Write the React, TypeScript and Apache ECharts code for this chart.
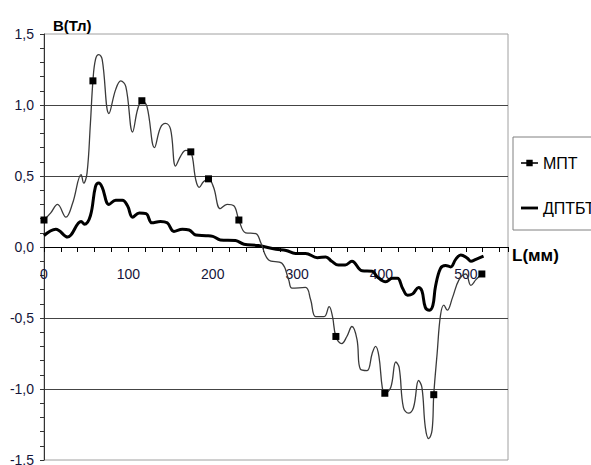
import React, { useEffect, useRef } from "react";
import * as echarts from "echarts";

const seriesNames = ["МПТ", "ДПТБТ"];

// МПТ: [L (мм), B (Тл)]
const mptData: [number, number][] = [
  [0, 0.19], [8, 0.24], [16, 0.3], [26, 0.21], [34, 0.31], [44, 0.51], [47, 0.45], [51, 0.52],
  [55, 0.87], [58, 1.17], [61, 1.32], [65, 1.355], [69, 1.32], [77, 0.94], [85, 1.11], [91, 1.17],
  [97, 1.13], [105, 0.81], [111, 0.97], [116, 1.03], [122, 0.99], [131, 0.7], [138, 0.84], [144, 0.87],
  [150, 0.83], [156, 0.57], [162, 0.64], [168, 0.68], [174, 0.67], [180, 0.47], [184, 0.42], [189, 0.46],
  [195, 0.48], [201, 0.42], [209, 0.27], [217, 0.3], [225, 0.29], [231, 0.19], [239, 0.1], [251, 0.095],
  [257, 0.03], [266, -0.09], [282, -0.115], [290, -0.23], [294, -0.29], [310, -0.285], [316, -0.37],
  [322, -0.49], [332, -0.49], [338, -0.42], [342, -0.49], [346, -0.63], [353, -0.68], [359, -0.63],
  [365, -0.56], [371, -0.65], [375, -0.86], [383, -0.87], [389, -0.75], [393, -0.7], [397, -0.77],
  [401, -0.99], [404, -1.03], [411, -0.99], [417, -0.81], [421, -0.85], [426, -1.13], [432, -1.17],
  [438, -1.13], [444, -0.94], [448, -0.99], [452, -1.27], [456, -1.35], [460, -1.29], [462, -1.04],
  [466, -0.75], [470, -0.48], [474, -0.41], [478, -0.445], [484, -0.36], [492, -0.23], [500, -0.19],
  [506, -0.27], [512, -0.23], [519, -0.19],
];

// L values of МПТ points that carry a square marker
const mptMarked: number[] = [0, 58, 116, 174, 195, 231, 346, 404, 462, 519];

// ДПТБТ: [L (мм), B (Тл)]
const dptbtData: [number, number][] = [
  [0, 0.08], [14, 0.125], [28, 0.07], [44, 0.18], [48, 0.16], [55, 0.22], [61, 0.425], [65, 0.45],
  [69, 0.42], [77, 0.3], [85, 0.33], [93, 0.33], [99, 0.29], [105, 0.21], [113, 0.24], [121, 0.235],
  [128, 0.17], [138, 0.18], [146, 0.17], [154, 0.11], [164, 0.125], [172, 0.12], [180, 0.085],
  [192, 0.08], [200, 0.075], [209, 0.05], [227, 0.045], [237, 0.02], [254, 0.01], [275, -0.016],
  [287, -0.025], [298, -0.045], [310, -0.045], [324, -0.075], [334, -0.07], [341, -0.1], [349, -0.127],
  [357, -0.127], [365, -0.1], [377, -0.167], [389, -0.17], [395, -0.21], [405, -0.245], [413, -0.22],
  [419, -0.22], [425, -0.29], [431, -0.34], [437, -0.33], [444, -0.285], [448, -0.31], [452, -0.425],
  [457, -0.445], [461, -0.41], [464, -0.28], [470, -0.15], [476, -0.13], [482, -0.14], [488, -0.087],
  [494, -0.056], [502, -0.08], [506, -0.1], [512, -0.087], [521, -0.064],
];

const xMin = 0;
const xMax = 550;
const yMin = -1.5;
const yMax = 1.5;

const FONT = "Arial, 'Liberation Sans', sans-serif";
const LABEL_COLOR = "#15153a";

export default function App() {
  const ref = useRef<HTMLDivElement>(null);

  useEffect(() => {
    if (!ref.current) return;
    const chart = echarts.init(ref.current, undefined, { renderer: "svg" });

    const mptItems = mptData.map(([x, y]) => ({
      value: [x, y],
      symbol: mptMarked.includes(x) ? "rect" : "none",
    }));

    chart.setOption({
      animation: false,
      backgroundColor: "#ffffff",
      grid: {
        left: 44,
        top: 34,
        right: 83,
        bottom: 5,
        outerBoundsMode: "none",
        containLabel: false,
        show: true,
        borderColor: "#a0a0a0",
        borderWidth: 1,
      },
      legend: {
        orient: "vertical",
        left: 513,
        top: 137,
        padding: [16, 8, 12, 7],
        itemGap: 25,
        itemWidth: 17,
        itemHeight: 8,
        borderColor: "#808080",
        borderWidth: 1,
        textStyle: { fontSize: 16, color: "#000", fontFamily: FONT, lineHeight: 20 },
        data: [
          { name: seriesNames[0] },
          { name: seriesNames[1], icon: "path://M0,0H24V4H0Z" },
        ],
      },
      xAxis: {
        type: "value",
        position: "bottom",
        offset: 0,
        min: xMin,
        max: xMax,
        interval: 20,
        name: "L(мм)",
        nameLocation: "end",
        nameGap: 4,
        nameTextStyle: {
          fontSize: 17,
          fontWeight: "bold",
          color: "#000",
          fontFamily: FONT,
          align: "left",
          verticalAlign: "top",
        },
        axisLine: { show: true, onZero: false, lineStyle: { color: "#000", width: 1 } },
        axisTick: { show: true, length: 5, inside: false, lineStyle: { color: "#000" } },
        axisLabel: {
          formatter: (v: number) => (v % 100 === 0 ? String(v) : ""),
          margin: 20,
          fontSize: 14,
          color: LABEL_COLOR,
          fontFamily: FONT,
        },
        splitLine: { show: false },
      },
      yAxis: {
        type: "value",
        min: yMin,
        max: yMax,
        interval: 0.5,
        name: "B(Тл)",
        nameLocation: "end",
        nameGap: 1,
        nameTextStyle: {
          fontSize: 15,
          fontWeight: "bold",
          color: "#000",
          fontFamily: FONT,
          align: "left",
          verticalAlign: "bottom",
          padding: [0, 0, 0, 9],
        },
        axisLine: { show: true, onZero: false, lineStyle: { color: "#333", width: 1 } },
        axisTick: { show: true, length: 4, lineStyle: { color: "#333" } },
        minorTick: { show: true, splitNumber: 5, length: 4, lineStyle: { color: "#333" } },
        axisLabel: {
          formatter: (v: number) => v.toFixed(1).replace(".", ","),
          margin: 10,
          fontSize: 14,
          color: LABEL_COLOR,
          fontFamily: FONT,
        },
        splitLine: {
          show: true,
          showMinLine: false,
          showMaxLine: false,
          lineStyle: { color: "#444", width: 1 },
        },
      },
      series: [
        {
          name: seriesNames[0],
          type: "line",
          smooth: 0.4,
          symbol: "rect",
          symbolSize: 7,
          showSymbol: true,
          lineStyle: { color: "#3a3a3a", width: 1.3 },
          itemStyle: { color: "#000" },
          data: mptItems,
          z: 3,
        },
        {
          name: seriesNames[1],
          type: "line",
          smooth: 0.4,
          symbol: "none",
          lineStyle: { color: "#000", width: 3 },
          itemStyle: { color: "#000" },
          data: dptbtData,
          z: 2,
        },
      ],
    });

    // Move the x axis (line, ticks, labels, name) up to B = 0 using the library's own scale
    const zeroY = chart.convertToPixel({ gridIndex: 0 }, [xMin, 0]) as number[];
    const bottomY = chart.convertToPixel({ gridIndex: 0 }, [xMin, yMin]) as number[];
    if (zeroY && bottomY) {
      chart.setOption({ xAxis: { offset: zeroY[1] - bottomY[1] } });
    }

    return () => chart.dispose();
  }, []);

  return (
    <div
      ref={ref}
      style={{ position: "fixed", left: 0, top: 0, width: 591, height: 465, background: "#fff" }}
    />
  );
}
